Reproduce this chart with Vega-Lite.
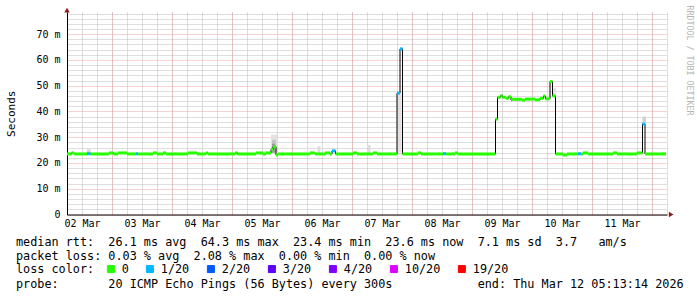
{
  "$schema": "https://vega.github.io/schema/vega-lite/v6.json",
  "width": 600,
  "height": 202.5,
  "autosize": {"type": "none"},
  "padding": {"left": 67, "top": 12, "right": 30, "bottom": 82.5},
  "background": "white",
  "view": {"stroke": null},
  "config": {
    "font": "DejaVu Sans Mono",
    "axis": {"labelFont": "DejaVu Sans Mono", "titleFont": "DejaVu Sans Mono", "labelColor": "black", "titleColor": "black", "titleFontWeight": "normal"}
  },
  "title": {
    "text": [
      "median rtt:\u00a0\u00a026.1 ms avg\u00a0\u00a064.3 ms max\u00a0\u00a023.4 ms min\u00a0\u00a023.6 ms now\u00a0\u00a07.1 ms sd\u00a0\u00a03.7\u00a0\u00a0\u00a0am/s",
      "packet loss: 0.03 % avg\u00a0\u00a02.08 % max\u00a0\u00a00.00 % min\u00a0\u00a00.00 % now"
    ],
    "subtitle": "probe:\u00a0\u00a0\u00a0\u00a0\u00a0\u00a0\u00a020 ICMP Echo Pings (56 Bytes) every 300s\u00a0\u00a0\u00a0\u00a0\u00a0\u00a0\u00a0\u00a0\u00a0\u00a0\u00a0\u00a0end: Thu Mar 12 05:13:14 2026",
    "orient": "bottom",
    "anchor": "start",
    "frame": "group",
    "font": "DejaVu Sans Mono",
    "fontSize": 11.8,
    "fontWeight": "normal",
    "color": "black",
    "lineHeight": 14,
    "baseline": "top",
    "subtitleFont": "DejaVu Sans Mono",
    "subtitleFontSize": 11.8,
    "subtitleColor": "black",
    "subtitlePadding": 16,
    "dx": -51,
    "dy": -49,
    "offset": 10
  },
  "datasets": {
    "median": [
      {"t0":"2026-03-02T06:00Z","t1":"2026-03-02T07:48Z","ms":23.5,"loss":"0"},
      {"t0":"2026-03-02T07:48Z","t1":"2026-03-02T08:48Z","ms":23.9,"loss":"0"},
      {"t0":"2026-03-02T08:48Z","t1":"2026-03-02T14:00Z","ms":23.5,"loss":"0"},
      {"t0":"2026-03-02T14:00Z","t1":"2026-03-02T15:24Z","ms":23.6,"loss":"1/20"},
      {"t0":"2026-03-02T15:24Z","t1":"2026-03-02T22:48Z","ms":23.5,"loss":"0"},
      {"t0":"2026-03-02T22:48Z","t1":"2026-03-03T00:36Z","ms":23.9,"loss":"0"},
      {"t0":"2026-03-03T00:36Z","t1":"2026-03-03T02:24Z","ms":23.5,"loss":"0"},
      {"t0":"2026-03-03T02:24Z","t1":"2026-03-03T06:00Z","ms":23.9,"loss":"0"},
      {"t0":"2026-03-03T06:00Z","t1":"2026-03-03T09:36Z","ms":23.5,"loss":"0"},
      {"t0":"2026-03-03T09:36Z","t1":"2026-03-03T10:24Z","ms":23.6,"loss":"1/20"},
      {"t0":"2026-03-03T10:24Z","t1":"2026-03-03T16:24Z","ms":23.5,"loss":"0"},
      {"t0":"2026-03-03T16:24Z","t1":"2026-03-03T18:00Z","ms":23.9,"loss":"0"},
      {"t0":"2026-03-03T18:00Z","t1":"2026-03-03T20:24Z","ms":23.5,"loss":"0"},
      {"t0":"2026-03-03T20:24Z","t1":"2026-03-03T21:36Z","ms":23.9,"loss":"0"},
      {"t0":"2026-03-03T21:36Z","t1":"2026-03-04T06:24Z","ms":23.5,"loss":"0"},
      {"t0":"2026-03-04T06:24Z","t1":"2026-03-04T10:00Z","ms":23.9,"loss":"0"},
      {"t0":"2026-03-04T10:00Z","t1":"2026-03-04T13:36Z","ms":23.5,"loss":"0"},
      {"t0":"2026-03-04T13:36Z","t1":"2026-03-04T14:24Z","ms":23.9,"loss":"0"},
      {"t0":"2026-03-04T14:24Z","t1":"2026-03-05T01:12Z","ms":23.5,"loss":"0"},
      {"t0":"2026-03-05T01:12Z","t1":"2026-03-05T02:12Z","ms":23.9,"loss":"0"},
      {"t0":"2026-03-05T02:12Z","t1":"2026-03-05T09:36Z","ms":23.5,"loss":"0"},
      {"t0":"2026-03-05T09:36Z","t1":"2026-03-05T12:24Z","ms":23.9,"loss":"0"},
      {"t0":"2026-03-05T12:24Z","t1":"2026-03-05T13:36Z","ms":23.5,"loss":"0"},
      {"t0":"2026-03-05T13:36Z","t1":"2026-03-05T15:36Z","ms":23.9,"loss":"0"},
      {"t0":"2026-03-05T15:36Z","t1":"2026-03-05T16:24Z","ms":25.3,"loss":"0"},
      {"t0":"2026-03-05T16:24Z","t1":"2026-03-05T17:36Z","ms":26.3,"loss":"0"},
      {"t0":"2026-03-05T17:36Z","t1":"2026-03-05T18:24Z","ms":23.1,"loss":"0"},
      {"t0":"2026-03-05T18:24Z","t1":"2026-03-06T07:12Z","ms":23.5,"loss":"0"},
      {"t0":"2026-03-06T07:12Z","t1":"2026-03-06T09:12Z","ms":23.9,"loss":"0"},
      {"t0":"2026-03-06T09:12Z","t1":"2026-03-06T13:12Z","ms":23.5,"loss":"0"},
      {"t0":"2026-03-06T13:12Z","t1":"2026-03-06T15:12Z","ms":23.9,"loss":"0"},
      {"t0":"2026-03-06T15:12Z","t1":"2026-03-06T16:00Z","ms":23.5,"loss":"0"},
      {"t0":"2026-03-06T16:00Z","t1":"2026-03-06T17:24Z","ms":24.7,"loss":"1/20"},
      {"t0":"2026-03-06T17:24Z","t1":"2026-03-07T00:24Z","ms":23.5,"loss":"0"},
      {"t0":"2026-03-07T00:24Z","t1":"2026-03-07T02:00Z","ms":23.9,"loss":"0"},
      {"t0":"2026-03-07T02:00Z","t1":"2026-03-07T08:24Z","ms":23.5,"loss":"0"},
      {"t0":"2026-03-07T08:24Z","t1":"2026-03-07T10:00Z","ms":23.9,"loss":"0"},
      {"t0":"2026-03-07T10:00Z","t1":"2026-03-07T18:00Z","ms":23.5,"loss":"0"},
      {"t0":"2026-03-07T18:00Z","t1":"2026-03-07T19:12Z","ms":47.1,"loss":"1/20"},
      {"t0":"2026-03-07T19:12Z","t1":"2026-03-07T20:12Z","ms":64.3,"loss":"1/20"},
      {"t0":"2026-03-07T20:12Z","t1":"2026-03-08T02:24Z","ms":23.5,"loss":"0"},
      {"t0":"2026-03-08T02:24Z","t1":"2026-03-08T03:36Z","ms":23.9,"loss":"0"},
      {"t0":"2026-03-08T03:36Z","t1":"2026-03-08T12:24Z","ms":23.5,"loss":"0"},
      {"t0":"2026-03-08T12:24Z","t1":"2026-03-08T13:36Z","ms":23.6,"loss":"1/20"},
      {"t0":"2026-03-08T13:36Z","t1":"2026-03-08T17:12Z","ms":23.5,"loss":"0"},
      {"t0":"2026-03-08T17:12Z","t1":"2026-03-08T18:24Z","ms":23.9,"loss":"0"},
      {"t0":"2026-03-08T18:24Z","t1":"2026-03-09T09:24Z","ms":23.5,"loss":"0"},
      {"t0":"2026-03-09T09:24Z","t1":"2026-03-09T10:12Z","ms":37.0,"loss":"0"},
      {"t0":"2026-03-09T10:12Z","t1":"2026-03-09T11:24Z","ms":45.5,"loss":"0"},
      {"t0":"2026-03-09T11:24Z","t1":"2026-03-09T12:12Z","ms":46.1,"loss":"0"},
      {"t0":"2026-03-09T12:12Z","t1":"2026-03-09T13:36Z","ms":45.5,"loss":"0"},
      {"t0":"2026-03-09T13:36Z","t1":"2026-03-09T14:36Z","ms":45.1,"loss":"0"},
      {"t0":"2026-03-09T14:36Z","t1":"2026-03-09T15:36Z","ms":45.7,"loss":"0"},
      {"t0":"2026-03-09T15:36Z","t1":"2026-03-09T16:00Z","ms":44.4,"loss":"0"},
      {"t0":"2026-03-09T16:00Z","t1":"2026-03-09T20:00Z","ms":44.7,"loss":"0"},
      {"t0":"2026-03-09T20:00Z","t1":"2026-03-09T21:12Z","ms":44.4,"loss":"0"},
      {"t0":"2026-03-09T21:12Z","t1":"2026-03-10T01:12Z","ms":44.8,"loss":"0"},
      {"t0":"2026-03-10T01:12Z","t1":"2026-03-10T03:12Z","ms":44.5,"loss":"0"},
      {"t0":"2026-03-10T03:12Z","t1":"2026-03-10T04:36Z","ms":45.1,"loss":"0"},
      {"t0":"2026-03-10T04:36Z","t1":"2026-03-10T05:24Z","ms":46.0,"loss":"0"},
      {"t0":"2026-03-10T05:24Z","t1":"2026-03-10T07:12Z","ms":44.9,"loss":"0"},
      {"t0":"2026-03-10T07:12Z","t1":"2026-03-10T08:12Z","ms":51.6,"loss":"0"},
      {"t0":"2026-03-10T08:12Z","t1":"2026-03-10T09:24Z","ms":46.0,"loss":"0"},
      {"t0":"2026-03-10T09:24Z","t1":"2026-03-10T12:24Z","ms":23.5,"loss":"0"},
      {"t0":"2026-03-10T12:24Z","t1":"2026-03-10T14:00Z","ms":23.1,"loss":"0"},
      {"t0":"2026-03-10T14:00Z","t1":"2026-03-10T18:24Z","ms":23.5,"loss":"0"},
      {"t0":"2026-03-10T18:24Z","t1":"2026-03-10T19:36Z","ms":23.6,"loss":"1/20"},
      {"t0":"2026-03-10T19:36Z","t1":"2026-03-10T20:24Z","ms":23.5,"loss":"0"},
      {"t0":"2026-03-10T20:24Z","t1":"2026-03-10T22:24Z","ms":23.9,"loss":"0"},
      {"t0":"2026-03-10T22:24Z","t1":"2026-03-11T08:24Z","ms":23.5,"loss":"0"},
      {"t0":"2026-03-11T08:24Z","t1":"2026-03-11T10:00Z","ms":23.9,"loss":"0"},
      {"t0":"2026-03-11T10:00Z","t1":"2026-03-11T18:00Z","ms":23.5,"loss":"0"},
      {"t0":"2026-03-11T18:00Z","t1":"2026-03-11T20:12Z","ms":23.9,"loss":"0"},
      {"t0":"2026-03-11T20:12Z","t1":"2026-03-11T21:12Z","ms":35.1,"loss":"1/20"},
      {"t0":"2026-03-11T21:12Z","t1":"2026-03-12T05:36Z","ms":23.5,"loss":"0"}
    ],
    "smoke": [
      {"t0":"2026-03-02T14:00Z","t1":"2026-03-02T15:24Z","lo":23.8,"hi":25.3,"shade":"#d4d4d4"},
      {"t0":"2026-03-05T15:36Z","t1":"2026-03-05T18:00Z","lo":24.0,"hi":31.0,"shade":"#e2e2e2"},
      {"t0":"2026-03-05T16:00Z","t1":"2026-03-05T17:36Z","lo":24.0,"hi":29.0,"shade":"#c4c4c4"},
      {"t0":"2026-03-05T16:00Z","t1":"2026-03-05T17:12Z","lo":24.0,"hi":27.5,"shade":"#9a9a9a"},
      {"t0":"2026-03-06T10:12Z","t1":"2026-03-06T11:24Z","lo":23.8,"hi":26.5,"shade":"#dcdcdc"},
      {"t0":"2026-03-07T06:12Z","t1":"2026-03-07T07:24Z","lo":23.8,"hi":27.0,"shade":"#dcdcdc"},
      {"t0":"2026-03-07T18:00Z","t1":"2026-03-07T19:48Z","lo":24.0,"hi":47.0,"shade":"#e0e0e0"},
      {"t0":"2026-03-10T08:12Z","t1":"2026-03-10T09:36Z","lo":46.0,"hi":49.0,"shade":"#e0e0e0"},
      {"t0":"2026-03-11T20:12Z","t1":"2026-03-11T21:36Z","lo":35.0,"hi":38.0,"shade":"#d0d0d0"}
    ],
    "arrows": [
      {"t":"2026-03-02T06:00Z","v":79.3,"shape":"triangle-up"},
      {"t":"2026-03-12T07:40Z","v":0,"shape":"triangle-right"}
    ]
  },
  "layer": [
    {
      "data": {"name": "smoke"},
      "mark": {"type": "rect"},
      "encoding": {
        "x": {"field": "t0", "type": "temporal",
              "scale": {"type": "utc", "nice": false, "domain": [{"year":2026,"month":3,"date":2,"hours":6,"utc":true},{"year":2026,"month":3,"date":12,"hours":6,"utc":true}]},
              "axis": {"orient": "bottom", "grid": true, "gridColor": "#bdbdbd", "gridDash": [1, 1], "tickCount": 40, "labels": false, "ticks": false, "domain": false, "title": null}},
        "x2": {"field": "t1"},
        "y": {"field": "lo", "type": "quantitative",
              "scale": {"domain": [0, 78.6], "nice": false, "zero": true},
              "axis": {"orient": "left", "grid": true, "gridColor": "#bdbdbd", "gridDash": [1, 1], "values": [2,4,6,8,12,14,16,18,22,24,26,28,32,34,36,38,42,44,46,48,52,54,56,58,62,64,66,68,72,74,76,78], "labels": false, "ticks": false, "domain": false, "title": null}},
        "y2": {"field": "hi"},
        "fill": {"field": "shade", "type": "nominal", "scale": null}
      }
    },
    {
      "data": {"name": "median"},
      "mark": {"type": "line", "interpolate": "step-after", "color": "#000000", "strokeWidth": 1},
      "encoding": {
        "x": {"field": "t0", "type": "temporal",
              "scale": {"type": "utc", "nice": false, "domain": [{"year":2026,"month":3,"date":2,"hours":6,"utc":true},{"year":2026,"month":3,"date":12,"hours":6,"utc":true}]},
              "axis": {"orient": "bottom", "grid": true, "gridColor": "#eea4a4", "gridDash": [1, 1], "tickCount": 10, "labels": false, "ticks": false, "domain": false, "title": null}},
        "y": {"field": "ms", "type": "quantitative",
              "scale": {"domain": [0, 78.6], "nice": false, "zero": true},
              "axis": {"orient": "left", "grid": true, "gridColor": "#eea4a4", "gridDash": [1, 1], "values": [0,10,20,30,40,50,60,70],
                       "labelExpr": "datum.value == 0 ? '0' : datum.value + ' m'", "labelFontSize": 10, "labelPadding": 7,
                       "ticks": false, "domain": true, "domainColor": "#000000", "domainWidth": 1,
                       "title": "Seconds", "titleFontSize": 11, "titleAngle": -90, "titleX": -56, "titleY": 101.25, "titleAlign": "center", "titleBaseline": "middle"}}
      }
    },
    {
      "data": {"name": "median"},
      "mark": {"type": "rule", "strokeWidth": 3, "strokeCap": "butt"},
      "encoding": {
        "x": {"field": "t0", "type": "temporal",
              "scale": {"type": "utc", "nice": false, "domain": [{"year":2026,"month":3,"date":2,"hours":6,"utc":true},{"year":2026,"month":3,"date":12,"hours":6,"utc":true}]},
              "axis": {"orient": "bottom", "grid": false, "ticks": false, "domain": true, "domainColor": "#000000", "domainWidth": 1,
                       "values": [
                         {"year":2026,"month":3,"date":2,"hours":12,"utc":true},
                         {"year":2026,"month":3,"date":3,"hours":12,"utc":true},
                         {"year":2026,"month":3,"date":4,"hours":12,"utc":true},
                         {"year":2026,"month":3,"date":5,"hours":12,"utc":true},
                         {"year":2026,"month":3,"date":6,"hours":12,"utc":true},
                         {"year":2026,"month":3,"date":7,"hours":12,"utc":true},
                         {"year":2026,"month":3,"date":8,"hours":12,"utc":true},
                         {"year":2026,"month":3,"date":9,"hours":12,"utc":true},
                         {"year":2026,"month":3,"date":10,"hours":12,"utc":true},
                         {"year":2026,"month":3,"date":11,"hours":12,"utc":true}
                       ],
                       "format": "%d %b", "labelFontSize": 10, "labelPadding": 4, "title": null}},
        "x2": {"field": "t1"},
        "y": {"field": "ms", "type": "quantitative",
              "scale": {"domain": [0, 78.6], "nice": false, "zero": true},
              "axis": {"orient": "right", "grid": false, "labels": false, "ticks": false, "domain": false,
                       "title": "RRDTOOL / TOBI OETIKER", "titleAngle": 90, "titleColor": "#b4b4b4", "titleFontSize": 8.3,
                       "titleX": 21, "titleY": -7, "titleAlign": "left", "titleBaseline": "middle"}},
        "color": {"field": "loss", "type": "nominal",
                  "scale": {"domain": ["0","1/20","2/20","3/20","4/20","10/20","19/20"],
                            "range": ["#26ff00","#00b8ff","#0059ff","#5e00ff","#7e00ff","#dd00ff","#ff0000"]},
                  "legend": {"title": "loss color:", "orient": "none", "legendX": -51, "legendY": 251, "direction": "horizontal",
                             "titleOrient": "left", "titleFont": "DejaVu Sans Mono", "titleFontSize": 11.8, "titleFontWeight": "normal", "titleColor": "#000000", "titlePadding": 10,
                             "labelFont": "DejaVu Sans Mono", "labelFontSize": 11.8, "labelColor": "#000000", "labelOffset": 5, "columnPadding": 15,
                             "symbolType": "square", "symbolSize": 49, "symbolStrokeColor": "#000000", "symbolStrokeWidth": 1, "symbolOpacity": 1,
                             "encode": {"symbols": {"update": {"fill": {"scale": "color", "field": "value"}, "stroke": {"value": "#000000"}}}}}}
      }
    },
    {
      "data": {"name": "arrows"},
      "mark": {"type": "point", "filled": true, "clip": false, "size": 30, "color": "#8b1a1a", "opacity": 1},
      "encoding": {
        "x": {"field": "t", "type": "temporal", "axis": null},
        "y": {"field": "v", "type": "quantitative", "axis": null},
        "shape": {"field": "shape", "type": "nominal", "scale": null}
      }
    }
  ],
  "resolve": {"axis": {"x": "independent", "y": "independent"}}
}
